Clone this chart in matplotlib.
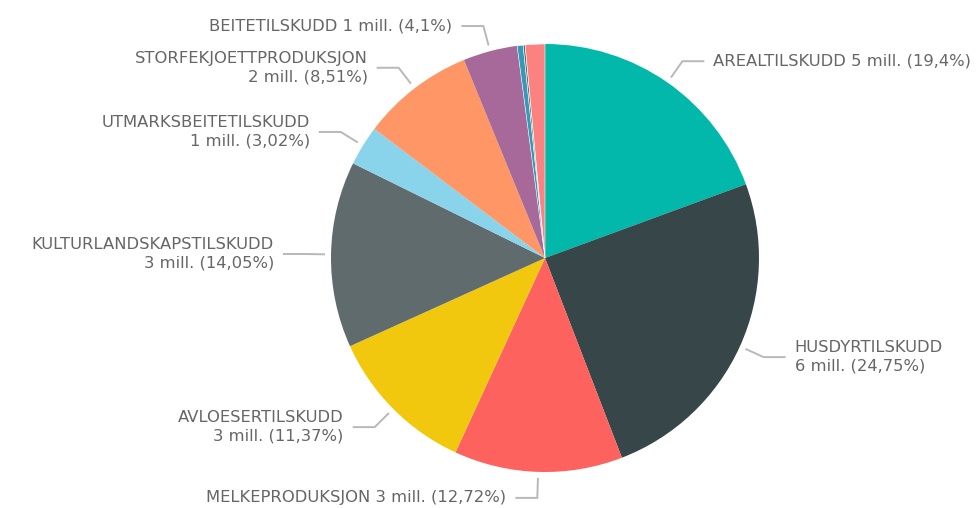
import numpy as np
import matplotlib.pyplot as plt

# -----------------------------------
# Data
# -----------------------------------

names = ["AREALTILSKUDD", "HUSDYRTILSKUDD", "MELKEPRODUKSJON", "AVLOESERTILSKUDD",
         "KULTURLANDSKAPSTILSKUDD", "UTMARKSBEITETILSKUDD", "STORFEKJOETTPRODUKSJON",
         "BEITETILSKUDD", "", "", ""]
mill = [5, 6, 3, 3, 3, 1, 2, 1, 0, 0, 0]
shares = [19.4, 24.75, 12.72, 11.37, 14.05, 3.02, 8.51, 4.1, 0.45, 0.15, 1.48]
pct_text = ["19,4", "24,75", "12,72", "11,37", "14,05", "3,02", "8,51", "4,1", "", "", ""]
two_line = [False, True, False, True, True, True, True, False, False, False, False]

colors = ["#01B8AA", "#374649", "#FD625E", "#F2C80F", "#5F6B6D", "#8AD4EB",
          "#FE9666", "#A66999", "#3599B8", "#5F6B6D", "#FB8281"]

# -----------------------------------
# Layout (pixel space, y up)
# -----------------------------------

W, H = 977, 508
cx, cy, R = 545, H - 258, 214

fig = plt.figure(figsize=(W / 100, H / 100), dpi=100)
ax = fig.add_axes([0, 0, 1, 1])

wedges, _ = ax.pie(shares, colors=colors, startangle=90, counterclock=False,
                   center=(cx, cy), radius=R,
                   wedgeprops=dict(edgecolor="none", linewidth=0))

# thin white gaps only around the tiny slices
for w in wedges[8:]:
    w.set_edgecolor("white")
    w.set_linewidth(0.4)

ax.set_xlim(0, W)
ax.set_ylim(0, H)
ax.set_aspect("equal")
ax.axis("off")

line_col = "#b8b8b8"
txt_col = "#666666"

for i, w in enumerate(wedges):
    if not names[i]:
        continue
    mid = np.deg2rad((w.theta1 + w.theta2) / 2)
    x0, y0 = cx + (R + 6) * np.cos(mid), cy + (R + 6) * np.sin(mid)
    x1, y1 = cx + (R + 26) * np.cos(mid), cy + (R + 26) * np.sin(mid)
    side = 1 if np.cos(mid) >= 0 else -1
    x2 = x1 + side * 22
    ax.plot([x0, x1, x2], [y0, y1, y1], color=line_col, lw=1.4,
            solid_capstyle="butt", solid_joinstyle="miter")

    value = f"{mill[i]} mill. ({pct_text[i]}%)"
    label = names[i] + ("\n" if two_line[i] else " ") + value
    ha = "left" if side > 0 else "right"
    ax.text(x2 + side * 9, y1, label, ha=ha, va="center", multialignment=ha,
            color=txt_col, fontsize=11.8, family="DejaVu Sans", linespacing=1.28)

fig.savefig("out.png", dpi=100, facecolor="white")
